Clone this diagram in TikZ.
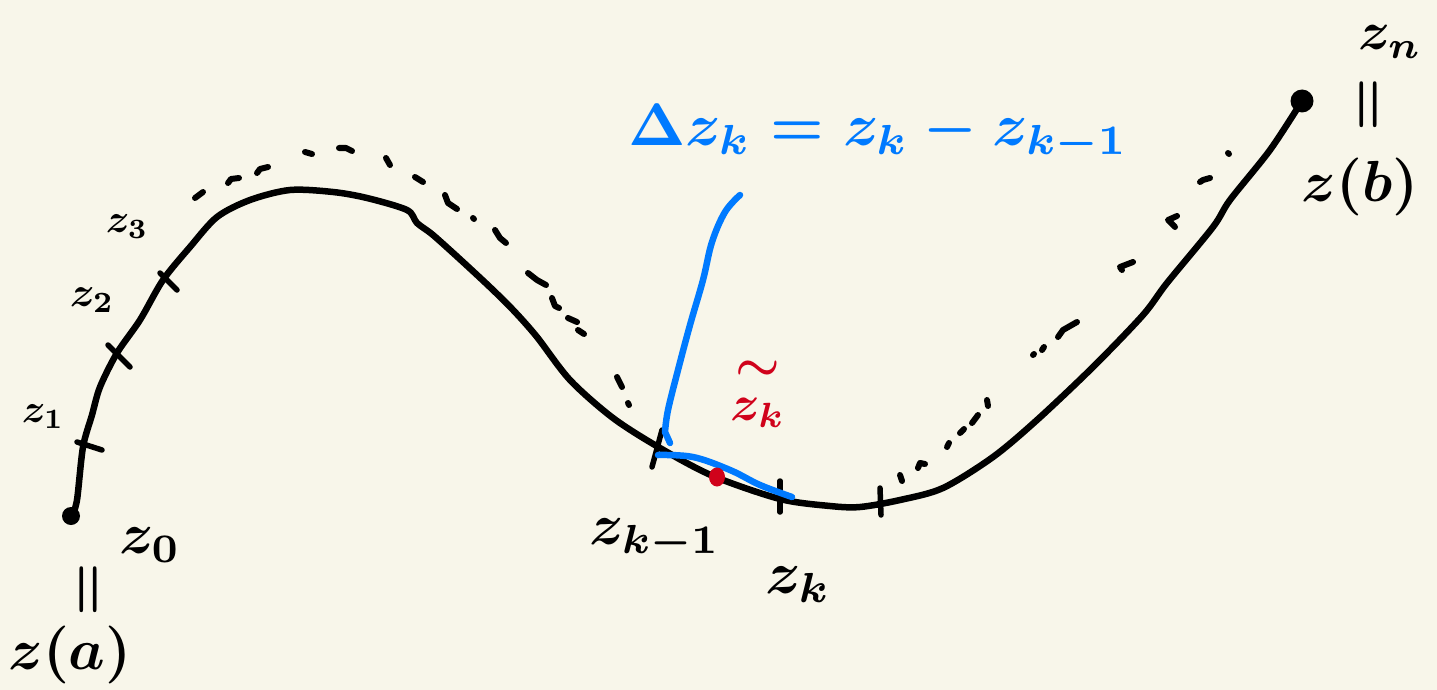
\documentclass[tikz,border=0pt]{standalone}
\usetikzlibrary{shapes.geometric}
\definecolor{paper}{RGB}{248,246,234}
\definecolor{pen}{RGB}{0,0,0}
\definecolor{penblue}{RGB}{0,122,255}
\definecolor{penred}{RGB}{208,2,27}
\tikzset{
  curve/.style={line width=6.5pt, line cap=round, line join=round, pen},
  tickmark/.style={line width=5.5pt, line cap=round, pen},
  dashmark/.style={line width=6pt, line cap=round, line join=round, pen},
  bluepen/.style={line width=6.5pt, line cap=round, line join=round, penblue},
  enddot/.style={circle, fill=pen, inner sep=0pt},
  lbl/.style={inner sep=0pt, pen, font=\boldmath},
}
\begin{document}
\begin{tikzpicture}[x=1pt,y=-1pt]
\useasboundingbox (0,0) rectangle (1437,690);
\fill[paper] (0,0) rectangle (1437,690);

% end points
\node[enddot, minimum size=18pt] (z0) at (71,516) {};
\node[enddot, minimum size=23pt] (zn) at (1302,101) {};

% main curve
\draw[curve] (z0.center) plot[smooth, tension=0.5] coordinates {
 (72,516) (77,500) (83,447) (92,415) (100,387) (117,353) (140,320) (163,280)
 (190,247) (217,217) (250,200) (290,190) (333,192) (367,198) (407,210) (417,223)
 (433,235) (463,262) (493,290) (515,312) (537,337) (570,380) (613,418) (660,448)
 (713,476) (780,499) (830,506) (860,507) (900,500) (943,488) (993,457) (1037,420)
 (1093,367) (1143,315) (1167,283) (1213,227) (1230,200) (1270,150) (1302,101)};

% tick marks
\draw[tickmark] (77,442) -- (102,450);
\draw[tickmark] (108,345) -- (130,367);
\draw[tickmark] (160,273) -- (177,290);
\draw[tickmark] (652,467) -- (662,430);
\draw[tickmark] (780,481) -- (780,512);
\draw[tickmark] (880,488) -- (881,515);

% dashed upper guide (hand dashes)
\draw[dashmark] (195,198) -- (203,192);
\draw[dashmark] (228,183) -- (231,179) -- (239,178);
\draw[dashmark] (257,173) -- (260,169) -- (268,167);
\draw[dashmark] (305,152) -- (312,154);
\draw[dashmark] (339,148) -- (346,148) -- (352,151);
\draw[dashmark] (386,158) -- (390,165);
\draw[dashmark] (415,177) -- (423,182);
\draw[dashmark] (445,195) -- (448,203) -- (457,209);
\draw[dashmark] (473,218) -- (474,219);
\draw[dashmark] (495,230) -- (500,238) -- (506,243);
\draw[dashmark] (528,273) -- (537,280) -- (546,285);
\draw[dashmark] (552,298) -- (555,306) -- (559,308);
\draw[dashmark] (568,318) -- (577,322);
\draw[dashmark] (578,330) -- (584,334);
\draw[dashmark] (617,377) -- (622,387);
\draw[dashmark] (628,403) -- (629,405);

\draw[dashmark] (900,475) -- (902,481);
\draw[dashmark] (918,468) -- (920,463) -- (925,464);
\draw[dashmark] (947,447) -- (949,443);
\draw[dashmark] (960,433) -- (964,429);
\draw[dashmark] (972,423) -- (978,415);
\draw[dashmark] (987,400) -- (988,406);
\draw[dashmark] (1033,355) -- (1034,354);
\draw[dashmark] (1042,350) -- (1044,347);
\draw[dashmark] (1058,337) -- (1063,330) -- (1077,322);
\draw[dashmark] (1122,270) -- (1120,267) -- (1133,262);
\draw[dashmark] (1175,227) -- (1168,220) -- (1177,216);
\draw[dashmark] (1200,182) -- (1203,180) -- (1210,178);
\draw[dashmark] (1228,153) -- (1229,154);

% blue annotation
\node[lbl, penblue, scale=6.0] (eq) at (878,133) {$\Delta z_k = z_k - z_{k-1}$};
\coordinate (bt) at (740,195);
\coordinate (bb) at (670,443);
\draw[bluepen] (bt) plot[smooth, tension=0.6] coordinates {
 (740,195) (725,212) (712,242) (703,280) (690,325) (678,370) (668,410) (665,432)} -- (bb);
\draw[bluepen] plot[smooth, tension=0.6] coordinates {
 (658,455) (693,457) (730,470) (760,485) (792,497)};

% red point
\node[ellipse, fill=penred, inner sep=0pt, minimum width=16pt, minimum height=19pt] (zt) at (717,477) {};
\node[lbl, penred, scale=5.0, align=center] (ztl) at (758,394) {$\sim$\hspace{3pt}\\[-4pt]$z_k$};

% labels
\node[lbl, scale=4.0] (l1) at (43,417) {$z_1$};
\node[lbl, scale=4.2] (l2) at (92,300) {$z_2$};
\node[lbl, scale=4.0] (l3) at (127,227) {$z_3$};
\node[lbl, scale=5.8] (l0) at (150,545) {$z_0$};
\node[lbl, scale=6.0, rotate=90] (e0) at (92,590) {$=$};
\node[lbl, scale=5.8] (la) at (70,655) {$z(a)$};
\node[lbl, scale=5.8] (lkm) at (655,540) {$z_{k-1}$};
\node[lbl, scale=6.0] (lk) at (798,585) {$z_k$};
\node[lbl, scale=5.4] (lnn) at (1390,42) {$z_n$};
\node[lbl, scale=6.0, rotate=90] (en) at (1372,105) {$=$};
\node[lbl, scale=5.8] (lb) at (1360,187) {$z(b)$};
\end{tikzpicture}
\end{document}
